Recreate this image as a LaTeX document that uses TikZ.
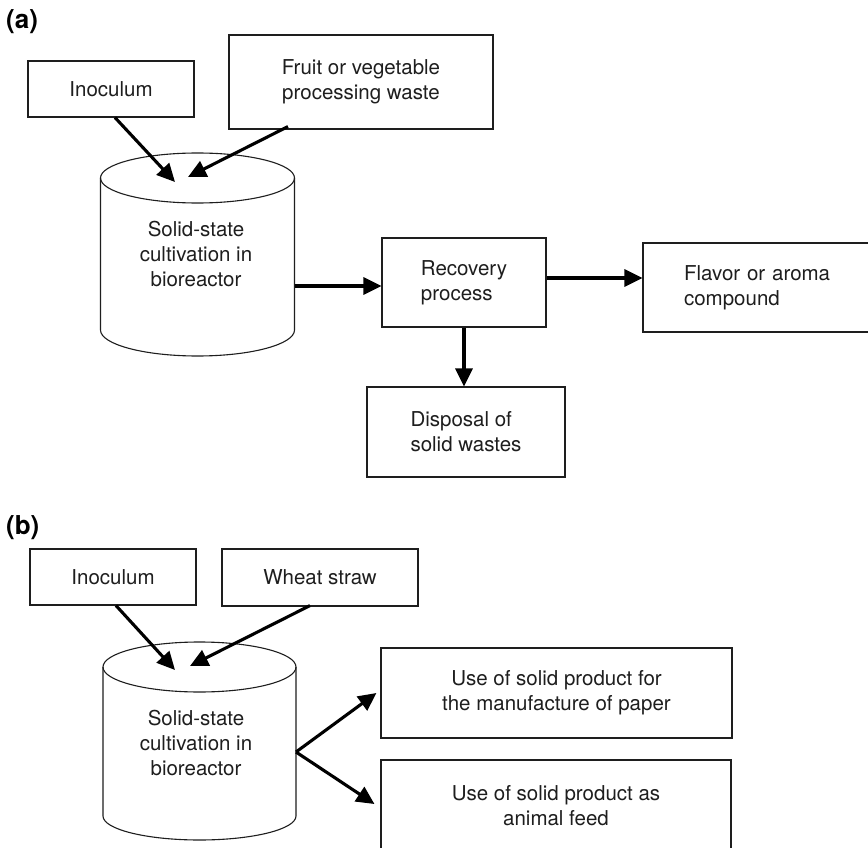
\documentclass[tikz,border=0pt]{standalone}
\usepackage{fontspec}
\setmainfont{TeX Gyre Heros}
\usetikzlibrary{arrows.meta,calc}
\definecolor{ink}{HTML}{1E1E1E}
\tikzset{
  box/.style={draw=ink, line width=1.1pt, text=ink, inner sep=0pt, align=center,
    font=\fontsize{20.5}{25}\selectfont},
  lbl/.style={text=ink, inner sep=0pt, align=center, font=\fontsize{20.5}{25}\selectfont},
  flow/.style={line width=3.1pt, draw=black, -{Triangle[length=18pt,width=17pt]}},
  cyl/.style={draw=ink, line width=1.1pt},
  panel/.style={anchor=west, inner sep=0pt, font=\fontsize{26}{30}\selectfont\bfseries, text=black}
}
\begin{document}
\begin{tikzpicture}[x=1pt,y=-1pt]
\useasboundingbox (0,0) rectangle (868,848);
\clip (0,0) rectangle (868,848);
\fill[white] (0,0) rectangle (868,848);

% ---------------- (a) ----------------
\node[panel] (pa) at (6,22) {(a)};
\node[box, minimum width=166pt, minimum height=56pt] (inoA) at (111,89) {Inoculum};
\node[box, minimum width=264pt, minimum height=94pt] (fruitA) at (361,82) {Fruit or vegetable\\processing waste};

% cylinder (a)
\draw[cyl] (197.5,178) ellipse [x radius=97, y radius=25];
\draw[cyl] (100.5,178) -- (100.5,330) arc[start angle=180, end angle=0, x radius=97, y radius=26] -- (294.5,178);
\node[lbl] (cylA) at (196,254) {Solid-state\\cultivation in\\bioreactor};
\coordinate (cylAinL) at (175,182);
\coordinate (cylAinR) at (188,177);
\coordinate (cylAout) at (294.5,286);

\node[box, minimum width=164pt, minimum height=89pt, align=left] (recA) at (464,282.5) {Recovery\\process};
\node[box, minimum width=257pt, minimum height=89pt, text width=175pt, inner xsep=41pt, align=left] (flavA) at (771.5,287.5) {Flavor or aroma\\compound};
\node[box, minimum width=198pt, minimum height=90pt, align=left] (disA) at (466,432) {Disposal of\\solid wastes};

\draw[flow] ([xshift=4pt]inoA.south) -- (cylAinL);
\draw[flow] ([xshift=-73pt,yshift=3pt]fruitA.south) -- (cylAinR);
\draw[flow] (cylAout) -- (cylAout -| recA.west);
\draw[flow] ([yshift=4.5pt]recA.east) -- ([yshift=4.5pt]recA.east -| flavA.west);
\draw[flow] (recA.south) -- (recA.south |- disA.north);

% ---------------- (b) ----------------
\node[panel] (pb) at (6,528) {(b)};
\node[box, minimum width=166pt, minimum height=56pt] (inoB) at (113,577) {Inoculum};
\node[box, minimum width=196pt, minimum height=57pt] (wheatB) at (320,577.5) {Wheat straw};

% cylinder (b)
\draw[cyl] (199.5,667) ellipse [x radius=96.5, y radius=25];
\draw[cyl] (103,667) -- (103,816) arc[start angle=180, end angle=0, x radius=96.5, y radius=24] -- (296,667);
\node[lbl] (cylB) at (196,743) {Solid-state\\cultivation in\\bioreactor};
\coordinate (cylBinL) at (175,670);
\coordinate (cylBinR) at (190,666);
\coordinate (cylBout) at (296,752);

\node[box, minimum width=351pt, minimum height=90pt] (useB1) at (556.5,693) {Use of solid product for\\the manufacture of paper};
\node[box, minimum width=350pt, minimum height=92pt] (useB2) at (556,806) {Use of solid product as\\animal feed};

\draw[flow] ([xshift=3pt]inoB.south) -- (cylBinL);
\draw[flow] ([xshift=-10pt,yshift=1pt]wheatB.south) -- (cylBinR);
\draw[flow] (cylBout) -- ([xshift=-4pt]useB1.west);
\draw[flow] (cylBout) -- ([xshift=-6pt,yshift=2pt]useB2.west);
\end{tikzpicture}
\end{document}
